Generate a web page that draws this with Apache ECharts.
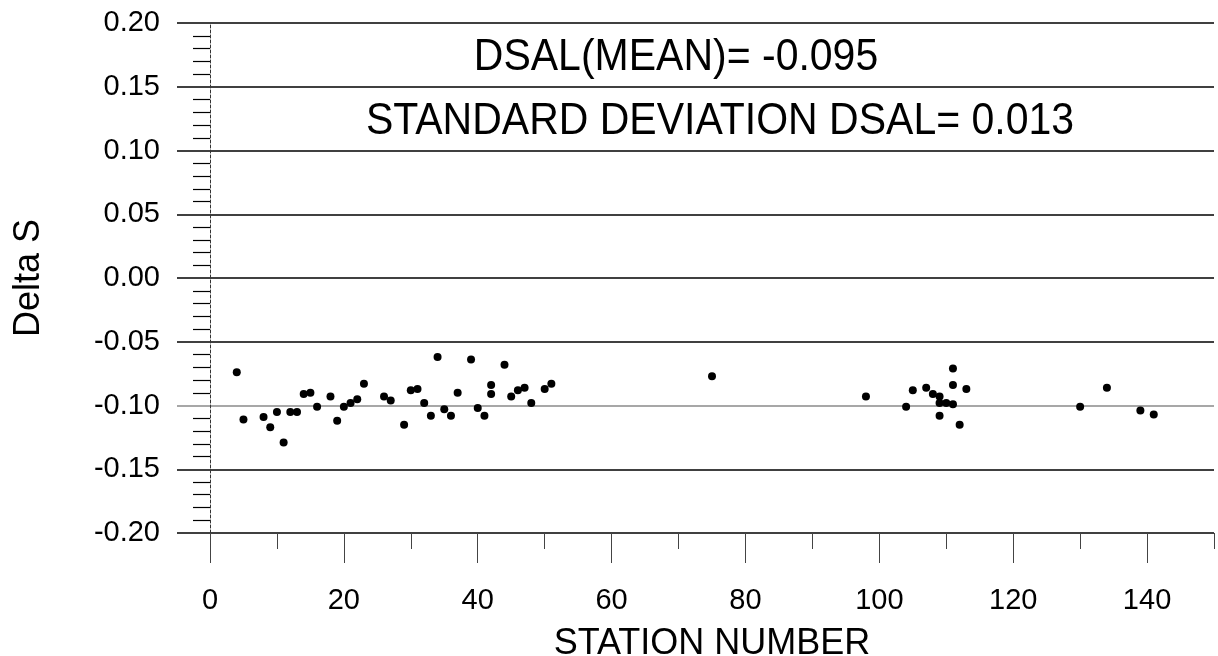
<!DOCTYPE html>
<html>
<head>
<meta charset="utf-8">
<style>
html,body{margin:0;padding:0;background:#fff;}
#chart{width:1218px;height:656px;}
</style>
<script src="https://cdn.jsdelivr.net/npm/echarts@6/dist/echarts.min.js"></script>
</head>
<body>
<div id="chart"></div>
<script>
// ---- data ----
const stationNumber = [4,5,8,9,10,11,12,13,14,15,16,18,19,20,21,22,23,26,27,29,30,31,32,33,34,35,36,37,39,40,41,42,42,44,45,46,47,48,50,51,
  75,98,104,105,107,108,109,109,109,110,111,111,111,112,113,130,134,139,141];
const deltaS = [-0.074,-0.111,-0.109,-0.117,-0.105,-0.129,-0.105,-0.105,-0.091,-0.090,-0.101,-0.093,-0.112,-0.101,-0.098,-0.095,-0.083,-0.093,-0.096,-0.115,-0.088,-0.087,-0.098,-0.108,-0.062,-0.103,-0.108,-0.090,-0.064,-0.102,-0.108,-0.084,-0.091,-0.068,-0.093,-0.088,-0.086,-0.098,-0.087,-0.083,
  -0.077,-0.093,-0.101,-0.088,-0.086,-0.091,-0.093,-0.098,-0.108,-0.098,-0.071,-0.084,-0.099,-0.115,-0.087,-0.101,-0.086,-0.104,-0.107];
const xMajorTicks = [0,20,40,60,80,100,120,140];
const xMinorTicks = [10,30,50,70,90,110,130,150];
const yTicks = [-0.20,-0.15,-0.10,-0.05,0.00,0.05,0.10,0.15,0.20];
const meanText = 'DSAL(MEAN)= -0.095';
const sdText = 'STANDARD DEVIATION DSAL= 0.013';
const xTitle = 'STATION NUMBER';
const yTitle = 'Delta S';

const FONT = "'Liberation Sans', Arial, sans-serif";
const points = stationNumber.map((s, i) => [s, deltaS[i]]);
const gridColors = yTicks.map(v => Math.abs(v + 0.10) < 1e-9 ? '#8a8a8a' : '#000');

const chart = echarts.init(document.getElementById('chart'));
chart.setOption({
  animation: false,
  backgroundColor: '#fff',
  grid: [
    {left: 177, right: 4, top: 23, bottom: 123, containLabel: false, outerBoundsMode: 'none'},
    {left: 210, right: 4, top: 23, bottom: 123, containLabel: false, outerBoundsMode: 'none'}
  ],
  xAxis: [
    {gridIndex: 0, type: 'value', min: 0, max: 1, show: false},
    {
      gridIndex: 1, type: 'value', min: 0, max: 150, position: 'bottom',
      axisLine: {show: false, onZero: false},
      splitLine: {show: false},
      axisTick: {show: true, customValues: xMajorTicks, length: 30, lineStyle: {color: '#444', width: 1}},
      axisLabel: {customValues: xMajorTicks, margin: 53, fontSize: 29, color: '#000', fontFamily: FONT},
      name: xTitle, nameLocation: 'middle', nameGap: 93,
      nameTextStyle: {fontSize: 36, color: '#000', fontFamily: FONT}
    },
    {
      gridIndex: 1, type: 'value', min: 0, max: 150, position: 'bottom',
      axisLine: {show: false, onZero: false},
      splitLine: {show: false},
      axisTick: {show: true, customValues: xMinorTicks, length: 16, lineStyle: {color: '#444', width: 1}},
      axisLabel: {show: false}
    }
  ],
  yAxis: [
    {
      gridIndex: 0, type: 'value', min: -0.2, max: 0.2, interval: 0.05,
      axisLine: {show: false}, axisTick: {show: false},
      axisLabel: {margin: 17, fontSize: 29, color: '#000', fontFamily: FONT, formatter: v => v.toFixed(2)},
      splitLine: {show: true, lineStyle: {color: gridColors, width: 1.5}},
      name: yTitle, nameLocation: 'middle', nameGap: 130, nameRotate: 90,
      nameTextStyle: {fontSize: 36, color: '#000', fontFamily: FONT}
    },
    {
      gridIndex: 1, type: 'value', min: -0.2, max: 0.2, interval: 0.05,
      axisLine: {show: true, onZero: false, lineStyle: {color: '#333', width: 1, type: [3, 2]}},
      axisTick: {show: false},
      minorTick: {show: true, splitNumber: 5, length: 17, lineStyle: {color: '#000', width: 1.2}},
      axisLabel: {show: false},
      splitLine: {show: false}
    }
  ],
  graphic: [
    {type: 'text', x: 676, y: 57.5, scaleY: 1.08, z: 10,
     style: {text: meanText, font: "41px " + FONT, fill: '#000', textAlign: 'center', textVerticalAlign: 'middle'}},
    {type: 'text', x: 720, y: 122, scaleY: 1.08, z: 10,
     style: {text: sdText, font: "41px " + FONT, fill: '#000', textAlign: 'center', textVerticalAlign: 'middle'}}
  ],
  series: [{
    type: 'scatter', xAxisIndex: 1, yAxisIndex: 1,
    data: points, symbol: 'circle', symbolSize: 8,
    itemStyle: {color: '#000', opacity: 1}
  }]
});
</script>
</body>
</html>
